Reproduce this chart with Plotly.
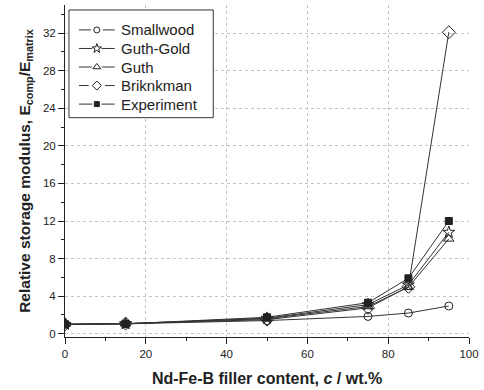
import plotly.graph_objects as go

x = [0, 15, 50, 75, 85, 95]
smallwood = [1.0, 1.05, 1.4, 1.84, 2.2, 2.95]
guth_gold = [1.0, 1.07, 1.65, 3.1, 5.2, 10.8]
guth = [1.0, 1.06, 1.6, 2.9, 4.95, 10.1]
brinkman = [1.0, 1.08, 1.5, 2.75, 5.0, 32.1]
experiment = [1.0, 1.05, 1.75, 3.3, 5.9, 12.0]

names = ["Smallwood", "Guth-Gold", "Guth", "Briknkman", "Experiment"]
values = [smallwood, guth_gold, guth, brinkman, experiment]
symbols = ["circle-open", "star-open", "triangle-up-open", "diamond-open", "square"]
sizes = [8, 9, 9, 10, 7]
leg_sizes = [6, 7, 7, 7, 5]

INK = "#222222"
font = "Liberation Sans, Arial, sans-serif"

X_RANGE = [0, 100]
Y_RANGE = [-0.35, 35]
PX_X0, PX_X1, PX_Y0, PX_Y1 = 65, 471, 338, 5   # plot-area pixel bounds


def px_to_x(px):
    return X_RANGE[0] + (px - PX_X0) / (PX_X1 - PX_X0) * (X_RANGE[1] - X_RANGE[0])


def px_to_y(py):
    return Y_RANGE[0] + (PX_Y0 - py) / (PX_Y0 - PX_Y1) * (Y_RANGE[1] - Y_RANGE[0])


fig = go.Figure()
for name, ys, sym, sz in zip(names, values, symbols, sizes):
    fig.add_trace(go.Scatter(
        x=x, y=ys, name=name, mode="lines+markers", showlegend=False,
        line=dict(color="#333333", width=1),
        marker=dict(symbol=sym, size=sz, color=INK, line=dict(color=INK, width=1)),
    ))

# hand-built legend on an overlay axis measured in page pixels
L_X0, L_X1, L_Y0, L_Y1 = 69, 214, 10, 118
ROW0, ROW_STEP = 30, 18.6
SEG0, SEG1, MX, TX = 79, 115, 97, 119
shapes = [dict(type="rect", xref="x", yref="y",
               x0=px_to_x(L_X0), x1=px_to_x(L_X1), y0=px_to_y(L_Y1), y1=px_to_y(L_Y0),
               line=dict(color="#333333", width=1), fillcolor="white", layer="between")]
annotations = []
for i, (name, sym, lsz) in enumerate(zip(names, symbols, leg_sizes)):
    ry = ROW0 + ROW_STEP * i
    fig.add_trace(go.Scatter(x=[SEG0, SEG1], y=[ry, ry], mode="lines", xaxis="x2", yaxis="y2",
                             showlegend=False, hoverinfo="skip",
                             line=dict(color="#333333", width=1)))
    fig.add_trace(go.Scatter(x=[MX], y=[ry], mode="markers", xaxis="x2", yaxis="y2",
                             showlegend=False, hoverinfo="skip",
                             marker=dict(symbol=sym.replace("-open", ""),
                                         size=lsz + 4 if sym == "square" else lsz + 6,
                                         color="white", line=dict(width=0))))
    fig.add_trace(go.Scatter(x=[MX], y=[ry], mode="markers", xaxis="x2", yaxis="y2",
                             showlegend=False, hoverinfo="skip",
                             marker=dict(symbol=sym, size=lsz, color=INK, line=dict(color=INK, width=1))))
    annotations.append(dict(x=TX, y=ry, xref="x2", yref="y2", text=name, showarrow=False,
                            xanchor="left", yanchor="middle",
                            font=dict(size=15, family=font, color=INK)))

fig.update_layout(
    width=484, height=390,
    margin=dict(l=PX_X0, r=484 - PX_X1, t=PX_Y1, b=390 - PX_Y0),
    paper_bgcolor="white", plot_bgcolor="white",
    font=dict(family=font, color=INK, size=11),
    showlegend=False,
    shapes=shapes, annotations=annotations,
    xaxis=dict(range=X_RANGE, dtick=20, tick0=0, showline=True, linecolor=INK,
               linewidth=1, ticks="outside", ticklen=6, tickcolor=INK,
               showgrid=True, gridcolor="#c4c4c4", griddash="3px,3px", gridwidth=1,
               zeroline=False, tickfont=dict(size=11.5),
               minor=dict(dtick=10, ticks="outside", ticklen=3, tickcolor=INK, showgrid=False),
               title=dict(text="<b>Nd-Fe-B filler content, <i>c</i> / wt.%</b>", font=dict(size=16), standoff=14)),
    yaxis=dict(range=Y_RANGE, dtick=4, tick0=0, showline=True, linecolor=INK,
               linewidth=1, ticks="outside", ticklen=6, tickcolor=INK,
               showgrid=True, gridcolor="#c4c4c4", griddash="3px,3px", gridwidth=1,
               zeroline=False, tickfont=dict(size=11.5),
               minor=dict(dtick=2, ticks="outside", ticklen=3, tickcolor=INK, showgrid=False),
               title=dict(text="<b>Relative storage modulus, E<sub>comp</sub>/E<sub>matrix</sub></b>",
                          font=dict(size=15.5), standoff=8)),
    xaxis2=dict(overlaying="x", range=[PX_X0, PX_X1], visible=False, fixedrange=True),
    yaxis2=dict(overlaying="y", range=[PX_Y0, PX_Y1], visible=False, fixedrange=True),
)
fig.write_html("out.html")
